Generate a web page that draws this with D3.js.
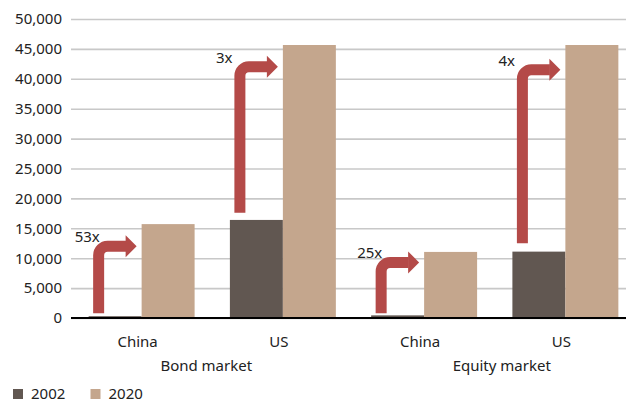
<!DOCTYPE html>
<html>
<head>
<meta charset="utf-8">
<script src="https://cdn.jsdelivr.net/npm/d3@7/dist/d3.min.js"></script>
<style>
  html, body { margin: 0; padding: 0; background: #fff; }
  svg { display: block; font-family: "Noto Sans", "Open Sans", sans-serif; }
</style>
</head>
<body>
<svg id="chart" width="626" height="403"></svg>
<script>
// Market size, 2002 vs 2020
const markets = ["Bond market", "Equity market"];
const countries = ["China", "US"];
const years = ["2002", "2020"];
const values2002 = [300, 16400, 440, 11100];
const values2020 = [15700, 45650, 11050, 45650];
const growthLabels = ["53x", "3x", "25x", "4x"];
// growth arrows: where the shaft starts and the level of the turn
const arrowFrom = [800, 17600, 800, 12500];
const arrowLevel = [12000, 42000, 9300, 41500];
const yTicks = [0, 5000, 10000, 15000, 20000, 25000, 30000, 35000, 40000, 45000, 50000];

const colors = { "2002": "#615751", "2020": "#c4a68d" };
const arrowColor = "#b44a48";
const textColor = "#222";

const categories = [];
markets.forEach(m => countries.forEach(c => categories.push({ market: m, country: c, key: m + "|" + c })));
categories.forEach((d, i) => {
  d.v2002 = values2002[i];
  d.v2020 = values2020[i];
  d.label = growthLabels[i];
  d.from = arrowFrom[i];
  d.level = arrowLevel[i];
});

const svg = d3.select("#chart");
const plotLeft = 71, plotRight = 636, plotTop = 19, plotBottom = 318;

const x = d3.scaleBand().domain(categories.map(d => d.key)).range([plotLeft, plotRight]).padding(0);
const xs = d3.scaleBand().domain(years).range([0, x.bandwidth()]).paddingInner(0).paddingOuter(0.333);
const y = d3.scaleLinear().domain([0, 50000]).range([plotBottom, plotTop]);

// gridlines and y tick labels
const yAxis = d3.axisLeft(y).tickValues(yTicks).tickFormat(d3.format(",")).tickSize(-(626 - plotLeft)).tickPadding(9);
const gy = svg.append("g").attr("transform", `translate(${plotLeft},0)`).call(yAxis);
gy.select(".domain").remove();
gy.selectAll(".tick line").attr("stroke", "#c8c8c8").attr("stroke-width", 1.6);
gy.selectAll(".tick text").attr("fill", textColor).attr("font-size", 15).attr("font-family", "Noto Sans, sans-serif");

// bars
const groups = svg.append("g").selectAll("g").data(categories).join("g")
  .attr("transform", d => `translate(${x(d.key)},0)`);
groups.selectAll("rect").data(d => years.map(yr => ({ yr, v: yr === "2002" ? d.v2002 : d.v2020 })))
  .join("rect")
  .attr("x", d => xs(d.yr))
  .attr("width", xs.bandwidth())
  .attr("y", d => y(d.v))
  .attr("height", d => y(0) - y(d.v))
  .attr("fill", d => colors[d.yr]);

// baseline
svg.append("line").attr("x1", plotLeft).attr("x2", 626).attr("y1", y(0)).attr("y2", y(0))
  .attr("stroke", "#000").attr("stroke-width", 2);

// growth arrows
const sw = 11, r = 9, headLen = 11, headHalf = 11;
categories.forEach(d => {
  const sx = x(d.key) + xs("2002") + 10;
  const tipX = x(d.key) + xs("2020") - 5;
  const y0 = y(d.from), yl = y(d.level);
  const backX = tipX - headLen;
  const g = svg.append("g");
  g.append("path")
    .attr("d", `M${sx},${y0} V${yl + r} A${r},${r} 0 0 1 ${sx + r},${yl} H${backX + 0.5}`)
    .attr("fill", "none").attr("stroke", arrowColor).attr("stroke-width", sw);
  g.append("path")
    .attr("d", `M${backX},${yl - headHalf} L${tipX},${yl} L${backX},${yl + headHalf} Z`)
    .attr("fill", arrowColor);
  g.append("text").attr("x", sx - 24).attr("y", yl - 4)
    .attr("font-size", 15).attr("fill", textColor).text(d.label);
});

// category labels
svg.append("g").selectAll("text").data(categories).join("text")
  .attr("x", d => x(d.key) + x.bandwidth() / 2 - 4)
  .attr("y", 347).attr("text-anchor", "middle")
  .attr("font-size", 15).attr("fill", textColor).text(d => d.country);

// market group labels
const marketShift = [-6, 7];
svg.append("g").selectAll("text").data(markets).join("text")
  .attr("x", (m, i) => {
    const ks = categories.filter(c => c.market === m).map(c => x(c.key));
    return (d3.min(ks) + d3.max(ks) + x.bandwidth()) / 2 + marketShift[i];
  })
  .attr("y", 371).attr("text-anchor", "middle")
  .attr("font-size", 15).attr("fill", textColor).text(m => m);

// legend
const legend = svg.append("g").selectAll("g").data(years).join("g")
  .attr("transform", (d, i) => `translate(${13 + i * 77.5},0)`);
legend.append("rect").attr("x", 0).attr("y", 389).attr("width", 10).attr("height", 10)
  .attr("fill", d => colors[d]);
legend.append("text").attr("x", 18).attr("y", 399).attr("font-size", 15)
  .attr("fill", textColor).text(d => d);
</script>
</body>
</html>
